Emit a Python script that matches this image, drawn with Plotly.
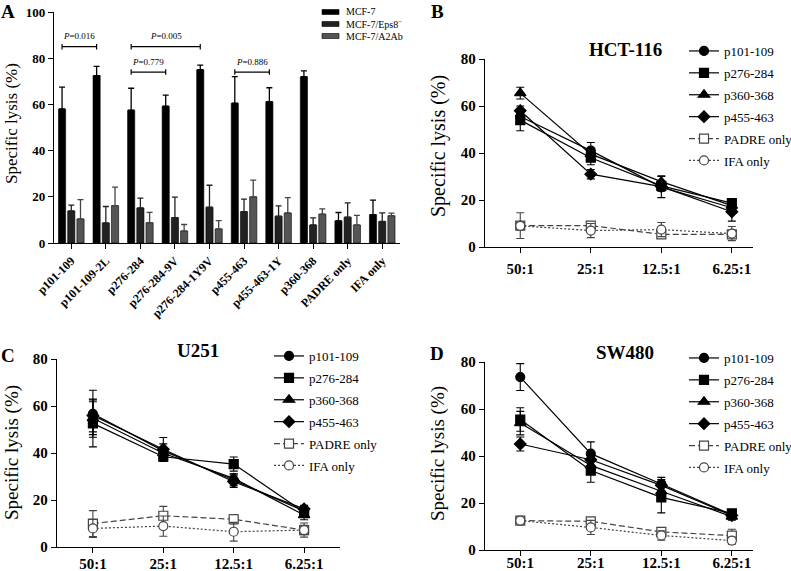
import plotly.graph_objects as go

FONT = "Liberation Serif, Times New Roman, Times, serif"

# ---------------- Panel A data ----------------
peptides = ["p101-109", "p101-109-2L", "p276-284", "p276-284-9V", "p276-284-1Y9V",
            "p455-463", "p455-463-1Y", "p360-368", "PADRE only", "IFA only"]
mcf7 = [58, 72.5, 57.5, 59.2, 75, 60.5, 61.2, 72, 9.6, 12.3]
mcf7_err = [9.5, 4, 9.5, 4.8, 2, 11.5, 6, 2.5, 3.6, 6.3]
eps8 = [13.9, 8.7, 15.2, 11, 15.5, 13.6, 11.6, 7.8, 11.2, 9.3]
eps8_err = [2.5, 7.1, 4.2, 8.9, 9.5, 5.4, 4.5, 3.1, 6.2, 3.7]
a2ab = [10.4, 16.2, 8.8, 5.2, 6.1, 20, 13, 12.5, 7.8, 11.8]
a2ab_err = [8.4, 8, 4.5, 2.8, 3.6, 7.2, 6.6, 2.3, 4.2, 1.1]
series_a = ["MCF-7", "MCF-7/Eps8<sup>−</sup>", "MCF-7/A2Ab"]
colors_a = ["#000000", "#222222", "#555555"]
# significance brackets: (from group, to group, height, p-value)
brackets = [(0, 1, 85, "0.016"), (2, 4, 85, "0.005"), (2, 3, 74, "0.779"), (5, 6, 74, "0.886")]

# ---------------- Line panels data ----------------
ratios = ["50:1", "25:1", "12.5:1", "6.25:1"]
groups = ["p101-109", "p276-284", "p360-368", "p455-463", "PADRE only", "IFA only"]

hct_vals = [[55.5, 41, 25.5, 16.7], [54, 38, 26, 18.7], [65.5, 39.5, 27.8, 17.6],
            [58, 31, 25.7, 15], [9.1, 9.1, 5.4, 5.4], [9, 7, 7.4, 5.7]]
hct_err = [[3, 3.5, 4.5, 2], [4.5, 3, 2, 1.5], [2.5, 2.5, 2.5, 1.5],
           [2, 2, 2, 4], [5.5, 1.5, 1.5, 1.5], [1.5, 3, 3, 3]]
u251_vals = [[56.7, 40.9, 28.5, 15.3], [52.6, 38.4, 35.3, 14.8], [54.8, 39.9, 29.2, 13.6],
             [56, 41.6, 27.8, 16.2], [10, 13.3, 11.8, 7.2], [7.9, 8.9, 6.5, 7.2]]
u251_err = [[10, 3, 2.5, 2], [10, 2, 3, 2], [7, 2, 2, 2],
            [7, 5, 2.5, 1.5], [5.5, 4, 2, 2], [3.8, 4.3, 4, 3]]
sw_vals = [[73.6, 41, 28.1, 15], [55.5, 33.8, 22.4, 15.6], [54, 36, 25, 14.2],
           [45.1, 38.4, 27.5, 14.7], [12.5, 12.2, 7.7, 6.1], [12.5, 9.6, 6.2, 4]]
sw_err = [[5.7, 5, 2.8, 1.5], [5, 5, 6.6, 1.5], [5, 2.5, 2.5, 1.5],
          [3, 3, 2.5, 1.5], [1.5, 1.5, 1.5, 2.7], [1, 3, 2, 1.5]]

symbols = ["circle", "square", "triangle-up", "diamond", "square", "circle"]
fills = ["black", "black", "black", "black", "white", "white"]
edges = ["black", "black", "black", "black", "#444444", "#444444"]
dashes = ["solid", "solid", "solid", "solid", "6px,3px", "2px,2px"]
lcolors = ["black", "black", "black", "black", "#444444", "#444444"]

W, H = 791, 571
def px(x):
    return x / W
def py(y):
    return 1 - y / H

fig = go.Figure()

# ---- Panel A bars ----
for name, vals, errs, col in zip(series_a, [mcf7, eps8, a2ab], [mcf7_err, eps8_err, a2ab_err], colors_a):
    fig.add_trace(go.Bar(
        x=peptides, y=vals, name=name, marker=dict(color=col, line=dict(color="black", width=0.6)),
        error_y=dict(type="data", array=errs, arrayminus=[0] * len(errs), symmetric=False,
                     color=col if col != "#555555" else "#444444", thickness=1.3, width=3),
        xaxis="x", yaxis="y", showlegend=False))

BARGAP = 0.2
slot = (1 - BARGAP) / 3
shapes = []
annotations = []
for i, j, h, p in brackets:
    x0, x1 = i - slot, j - slot
    shapes.append(dict(type="line", xref="x", yref="y", x0=x0, x1=x1, y0=h, y1=h, line=dict(color="black", width=1.2)))
    for xx in (x0, x1):
        shapes.append(dict(type="line", xref="x", yref="y", x0=xx, x1=xx, y0=h - 1.2, y1=h + 1.2, line=dict(color="black", width=1.2)))
    annotations.append(dict(xref="x", yref="y", x=(x0 + x1) / 2, y=h + 1.5, xanchor="center", yanchor="bottom",
                            text=f"<i>P</i>=0.{p.split('.')[1]}", showarrow=False,
                            font=dict(family=FONT, size=9, color="black")))

# Legend of panel A (drawn manually for tight spacing)
leg_rows = [12, 24, 36]
for name, col, yy in zip(series_a, colors_a, leg_rows):
    shapes.append(dict(type="rect", xref="paper", yref="paper", x0=px(322), x1=px(339),
                       y0=py(yy + 2.5), y1=py(yy - 2.5), fillcolor=col, line=dict(color="black", width=0.6)))
    annotations.append(dict(xref="paper", yref="paper", x=px(344), y=py(yy), xanchor="left", yanchor="middle",
                            text=name, showarrow=False, font=dict(family=FONT, size=10, color="black")))

# ---- Line panels ----
panels = [("x2", "y2", "legend2", hct_vals, hct_err),
          ("x3", "y3", "legend3", u251_vals, u251_err),
          ("x4", "y4", "legend4", sw_vals, sw_err)]
for xa, ya, leg, vals, errs in panels:
    for k, g in enumerate(groups):
        fig.add_trace(go.Scatter(
            x=ratios, y=vals[k], name=g, mode="lines+markers",
            line=dict(color=lcolors[k], width=1.2, dash=dashes[k]),
            marker=dict(symbol=symbols[k], size=9 if symbols[k] != "triangle-up" else 10,
                        color=fills[k], line=dict(color=edges[k], width=1.2)),
            error_y=dict(type="data", array=errs[k], color=lcolors[k], thickness=1.1, width=4),
            xaxis=xa, yaxis=ya, legend=leg, legendgroup=f"{leg}{k}"))

axis_common = dict(showline=True, linecolor="black", linewidth=1.3, ticks="outside", ticklen=5,
                   tickcolor="black", tickwidth=1.3, showgrid=False, zeroline=False, automargin=False,
                   tickfont=dict(family=FONT, size=15, color="black"),
                   tickprefix="<b>", ticksuffix="</b>")

layout = dict(
    width=W, height=H, margin=dict(l=0, r=0, t=0, b=0, pad=0, autoexpand=False),
    paper_bgcolor="white", plot_bgcolor="white",
    barmode="group", bargap=BARGAP, bargroupgap=0.22,
    font=dict(family=FONT, color="black"),
    xaxis=dict(axis_common, domain=[px(54), px(399.5)], anchor="y", type="category",
               range=[-0.5, 9.5], tickangle=-45, tickfont=dict(family=FONT, size=12, color="black")),
    yaxis=dict(axis_common, domain=[py(243), py(12)], anchor="x", range=[0, 100], dtick=20,
               tickfont=dict(family=FONT, size=13, color="black")),
    xaxis2=dict(axis_common, domain=[px(485), px(753)], anchor="y2", type="category", range=[-0.5, 3.3],
                ticklabelstandoff=3),
    yaxis2=dict(axis_common, domain=[py(247), py(59)], anchor="x2", range=[0, 80], dtick=20),
    xaxis3=dict(axis_common, domain=[px(57), px(340)], anchor="y3", type="category", range=[-0.51, 3.51],
                ticklabelstandoff=-2),
    yaxis3=dict(axis_common, domain=[py(547), py(359)], anchor="x3", range=[0, 80], dtick=20),
    xaxis4=dict(axis_common, domain=[px(485), px(753)], anchor="y4", type="category", range=[-0.5, 3.3],
                ticklabelstandoff=-6),
    yaxis4=dict(axis_common, domain=[py(550), py(362)], anchor="x4", range=[0, 80], dtick=20),
)
for leg, lx, ly in [("legend2", 684, 36), ("legend3", 269, 341), ("legend4", 684, 343)]:
    layout[leg] = dict(x=px(lx), y=py(ly), xanchor="left", yanchor="top", bgcolor="rgba(0,0,0,0)",
                       font=dict(family=FONT, size=13, color="black"), traceorder="grouped",
                       tracegroupgap=2, itemwidth=30)

# Y-axis titles
for x, y, size in [(12, 124, 17), (438, 146, 20), (12, 453, 19), (438, 454, 19)]:
    annotations.append(dict(xref="paper", yref="paper", x=px(x), y=py(y), xanchor="center", yanchor="middle",
                            text="Specific lysis (%)", textangle=-90, showarrow=False,
                            font=dict(family=FONT, size=size, color="black")))
# Titles and panel letters
for txt, x, y in [("HCT-116", 625, 50), ("U251", 198, 350), ("SW480", 625, 352)]:
    annotations.append(dict(xref="paper", yref="paper", x=px(x), y=py(y), xanchor="center", yanchor="middle",
                            text=f"<b>{txt}</b>", showarrow=False, font=dict(family=FONT, size=19, color="black")))
for txt, x, y in [("A", 8, 12), ("B", 437, 12), ("C", 8, 355), ("D", 437, 353)]:
    annotations.append(dict(xref="paper", yref="paper", x=px(x), y=py(y), xanchor="center", yanchor="middle",
                            text=f"<b>{txt}</b>", showarrow=False, font=dict(family=FONT, size=19, color="black")))

layout["shapes"] = shapes
layout["annotations"] = annotations
fig.update_layout(**layout)

fig.write_html("out.html", config={"displayModeBar": False},
               post_script="document.body.style.margin='0';document.body.style.padding='0';")
